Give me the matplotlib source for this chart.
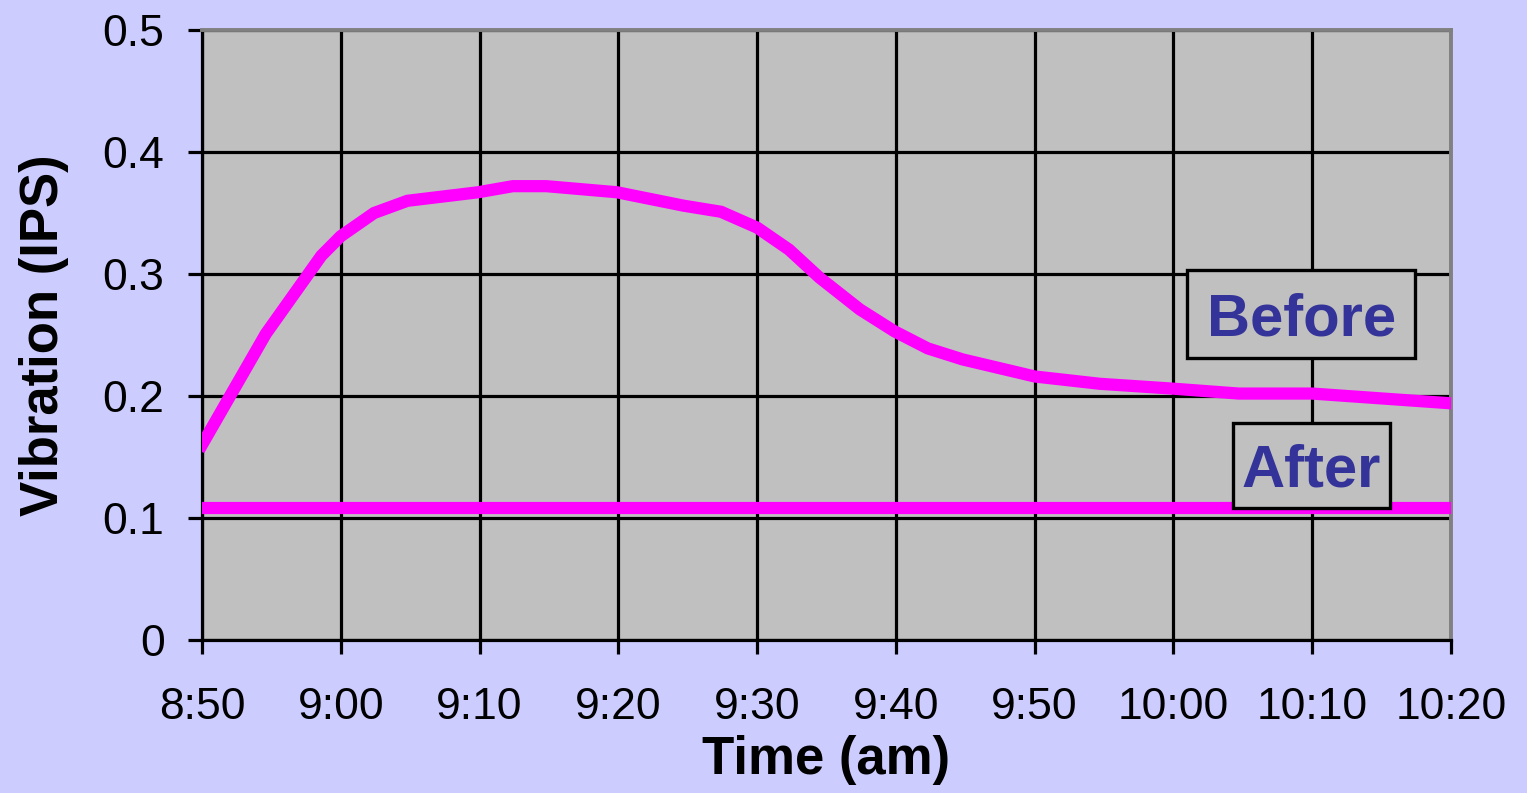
import numpy as np
import matplotlib
matplotlib.use('Agg')
import matplotlib.pyplot as plt
from matplotlib.patches import Rectangle

plt.rcParams['font.family'] = ['Liberation Sans', 'DejaVu Sans']

# minutes after 8:50
t_before = [0, 4.6, 8.6, 10, 12.4, 14.8, 19.9, 22.4, 24.8, 29.9, 34.7, 37.4, 40,
            42.3, 44.5, 47.4, 49.9, 52.3, 54.8, 60, 64.7, 70, 74.7, 80, 90]
vib_before = [0.160, 0.251, 0.315, 0.331, 0.350, 0.360, 0.367, 0.372, 0.372, 0.367,
              0.356, 0.351, 0.338, 0.320, 0.297, 0.271, 0.253, 0.239, 0.230, 0.216,
              0.210, 0.206, 0.202, 0.202, 0.194]
t_after = [0, 90]
vib_after = [0.108, 0.108]

x_ticks = [0, 10, 20, 30, 40, 50, 60, 70, 80, 90]
x_labels = ['8:50', '9:00', '9:10', '9:20', '9:30', '9:40', '9:50', '10:00', '10:10', '10:20']
y_ticks = [0, 0.1, 0.2, 0.3, 0.4, 0.5]
y_labels = ['0', '0.1', '0.2', '0.3', '0.4', '0.5']

bg = '#CCCCFF'
plot_bg = '#C0C0C0'
magenta = '#FF00FF'
navy = '#333399'

fig = plt.figure(figsize=(15.27, 7.93), dpi=100, facecolor=bg)
ax = fig.add_axes([202 / 1527, 153 / 793, 1249 / 1527, 610 / 793])
ax.set_facecolor(plot_bg)

ax.plot(t_before, vib_before, color=magenta, lw=8.8, solid_joinstyle='miter', zorder=3)
ax.plot(t_after, vib_after, color=magenta, lw=8.8, zorder=3)

ax.set_xlim(0, 90)
ax.set_ylim(0, 0.5)
ax.set_xticks(x_ticks)
ax.set_xticklabels(x_labels)
ax.set_yticks(y_ticks)
ax.set_yticklabels(y_labels)

ax.grid(True, color='black', lw=2.3, zorder=1)
ax.set_axisbelow(True)
ax.tick_params(axis='both', direction='out', length=10, width=2.3, color='black',
               labelsize=32)
ax.tick_params(axis='x', pad=24)
ax.tick_params(axis='y', pad=17)

for side in ['top', 'right']:
    ax.spines[side].set_color('#808080')
    ax.spines[side].set_linewidth(2.8)
for side in ['left', 'bottom']:
    ax.spines[side].set_color('black')
    ax.spines[side].set_linewidth(2.3)

ax.set_xlabel('Time (am)', fontsize=38, fontweight='bold', labelpad=5)
ax.set_ylabel('Vibration (IPS)', fontsize=38, fontweight='bold', labelpad=24)

# label boxes, in minutes / IPS
boxes = [
    ('Before', 71.0, 0.231, 16.4, 0.072),
    ('After', 74.3, 0.1086, 11.3, 0.069),
]
for label, x0, y0, w, h in boxes:
    ax.add_patch(Rectangle((x0, y0), w, h, facecolor=plot_bg, edgecolor='black',
                           lw=2.4, zorder=4))
    ax.text(x0 + w / 2, y0 + h / 2, label, color=navy, fontsize=43, fontweight='bold',
            ha='center', va='center_baseline', zorder=5)

fig.savefig('out.png', dpi=100, facecolor=bg)
